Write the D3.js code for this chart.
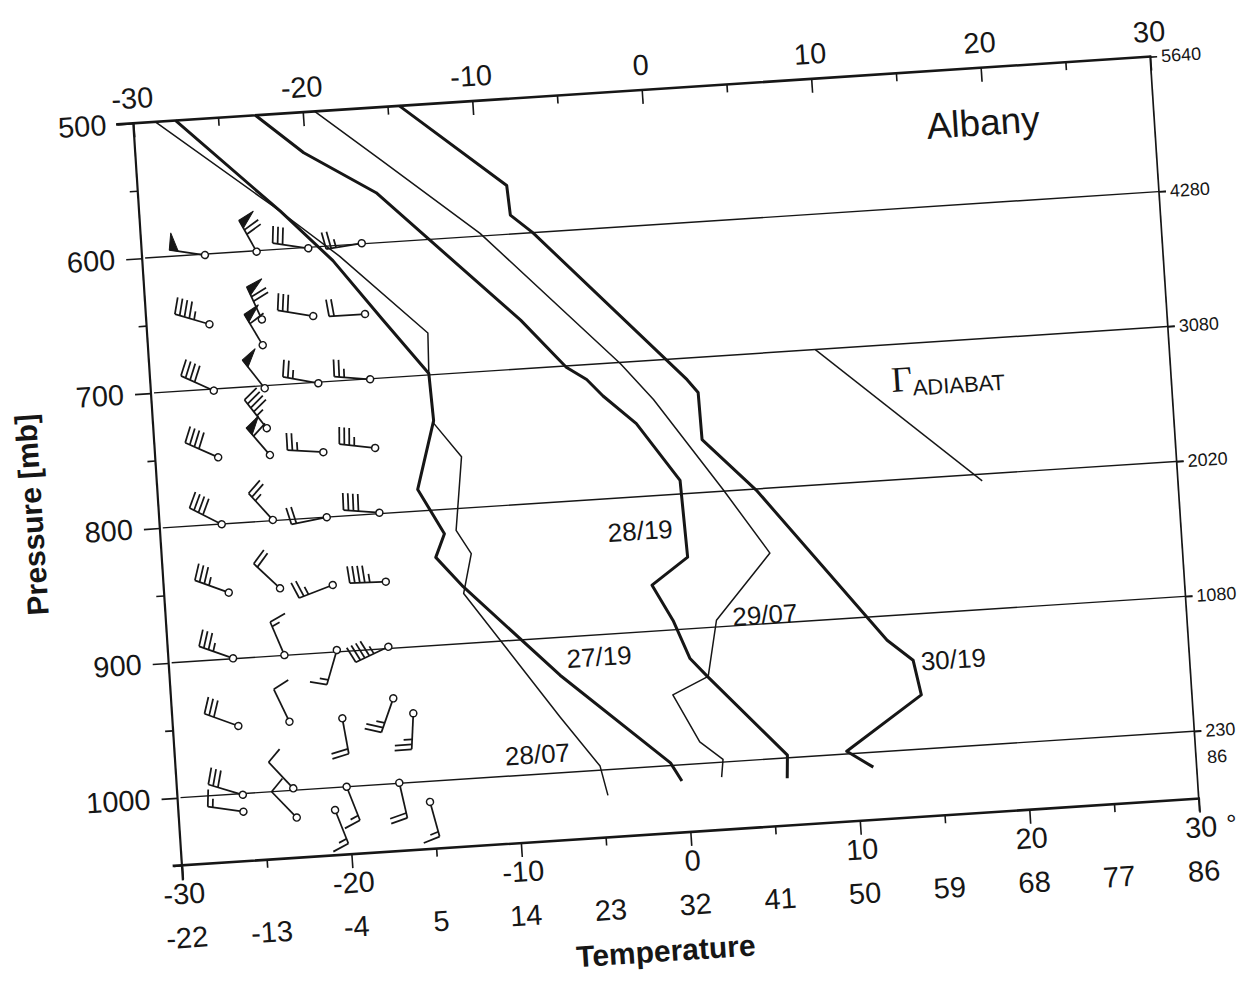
<!DOCTYPE html>
<html><head><meta charset="utf-8">
<script src="https://cdn.jsdelivr.net/npm/d3@7"></script>
<style>
body{margin:0;background:#fff}
svg{display:block}
</style>
</head><body>
<svg id="chart" width="1242" height="982"></svg>
<script>
// ---------------- DATA ----------------
const tempMajorTicks = [-30,-20,-10,0,10,20,30];
const tempMinorTicks = [-25,-15,-5,5,15,25];
const fahrenheitAt = [-30,-25,-20,-15,-10,-5,0,5,10,15,20,25,30];
const fahrenheitLabels = ["-22","-13","-4","5","14","23","32","41","50","59","68","77","86"];
const pressureMajorTicks = [500,600,700,800,900,1000];
const pressureMinorTicks = [550,650,750,850,950,1050];
const heightLevels = [500,600,700,800,900,1000];
const heightLabels = ["5640","4280","3080","2020","1080","230"];
const stationLevel = 1020, stationLabel = "86";
const isobarLevels = [600,700,800,900,1000];

// soundings: pressure (mb) and temperature (°C)
const s2719_p = [500,572,611,657,699,734,784,818,835,858,928,998,1012];
const s2719_T = [-27.5,-21.7,-18.8,-16.1,-13.6,-13.5,-14.7,-13.3,-13.9,-12.4,-7.05,-0.9,-0.3];
const s2807_p = [500,568,608,669,699,736,762,816,834,863,959,997,1019];
const s2807_T = [-28.7,-22.1,-18.4,-13.5,-13.6,-13.5,-12.0,-12.6,-11.8,-12.4,-7.2,-5.05,-4.7];
const s2819_p = [500,530,563,664,701,711,724,746,790,847,866,893,922,936,998,1015];
const s2819_T = [-22.8,-20.1,-16.0,-8.0,-5.5,-4.35,-3.45,-1.6,0.75,0.9,-1.3,-0.2,0.65,1.6,6.0,5.9];
const s2907_p = [500,539,598,701,729,799,848,895,936,948,984,998,1011];
const s2907_T = [-19.3,-15.6,-10.05,-2.3,-0.5,3.25,5.75,2.35,1.65,-0.5,0.9,2.2,2.05];
const s3019_p = [500,564,586,600,716,726,761,801,918,934,960,998,1011];
const s3019_T = [-14.3,-8.3,-8.2,-6.95,1.55,2.15,2.2,5.2,12.3,13.75,14.1,9.5,11.0];
const soundingNames = ["27/19","28/07","28/19","29/07","30/19"];
const soundingThick = [true,false,true,false,true];
const labelT = [-6.6,-10.6,-3.7,3.3,14.2];
const labelP = [923,992,832,900,942];

// dry adiabat reference segment
const adiabatP = [700,805];
const adiabatT = [9.2,18.5];

// wind barbs: position (T column, p), direction (deg, staff points toward it), speed (kt)
const barbT = [-26.3,-23.25,-20.2,-17.04, -26.3,-23.2,-23.25,-20.17,-17.12, -26.3,-23.3,-20.13,-17.07,
  -26.3,-23.33,-23.25,-20.1,-17.04, -26.35,-23.33,-20.15,-17.04, -26.2,-23.17,-20.06,-16.93,
  -26.2,-23.17,-20.07,-17.03, -26.15,-23.13,-20.01,-16.94,-15.82,
  -26.15,-26.18,-23.16,-23.07,-20.02,-16.91,-20.79,-15.18];
const barbP = [600.7,600.7,600.7,599.6, 652,651,670,651,652, 701.2,701.9,700.8,700.4,
  750.6,731.5,751.4,751.9,751.3, 800.2,799.5,800.1,799.3, 851,850.3,850.4,850.5,
  899.7,899.8,898.6,898.7, 949.9,949.2,949.3,937,949,
  1000.9,1013.4,998.6,1020.3,1000,999.6,1016.6,1015.2];
const barbDir = [282,334.5,282,264.5, 290,339,333,283,270, 298,325.6,284,278,
  297.5,325.5,322.8,277,280, 300.5,321.5,262.4,278, 293.7,316.8,252.6,271.3,
  293.2,340.5,199.8,248.4, 293.7,338,173.4,203,186.3,
  290.4,281.8,320.4,319.5,162,170.8,162,168.3];
const barbSpeed = [50,70,30,25, 45,70,60,30,20, 40,50,25,25,
  40,45,60,25,35, 40,25,20,40, 35,20,25,45,
  35,15,15,45, 30,10,20,25,25,
  30,15,10,10,15,20,15,15];

// ---------------- LAYOUT ----------------
const INK = "#161616";
const FONT = "'Liberation Sans', Arial, Helvetica, sans-serif";
const W = 1019, H = 743.6;
const svg = d3.select("#chart");
const g = svg.append("g").attr("transform","translate(133.3,123.3) rotate(-3.75)");

const x = d3.scaleLinear().domain([-30,30]).range([0,W]);
const y = d3.scaleLinear().domain([500,1050]).range([0,H]);

function styleAxis(sel, size){
  sel.select(".domain").remove();
  sel.selectAll(".tick line").attr("stroke",INK).attr("stroke-width",1.6);
  sel.attr("font-family",FONT).attr("font-size",size);
  sel.selectAll("text").attr("fill",INK);
}

// isobar lines
g.append("g").selectAll("line").data(isobarLevels).join("line")
  .attr("x1",x(-30)+3).attr("x2",x(30)+7)
  .attr("y1",d=>y(d)).attr("y2",d=>y(d))
  .attr("stroke",INK).attr("stroke-width",1.4);

// top axis
g.append("g").call(d3.axisTop(x).tickValues(tempMinorTicks).tickSizeInner(-8).tickSizeOuter(0).tickFormat(""))
  .call(s=>styleAxis(s,29));
g.append("g").call(d3.axisTop(x).tickValues(tempMajorTicks).tickSizeInner(-14).tickSizeOuter(0).tickPadding(15).tickFormat(d=>String(d)))
  .call(s=>styleAxis(s,29));
// bottom axis
g.append("g").attr("transform",`translate(0,${H})`)
  .call(d3.axisBottom(x).tickValues(tempMinorTicks).tickSizeInner(8).tickSizeOuter(0).tickFormat(""))
  .call(s=>styleAxis(s,29));
g.append("g").attr("transform",`translate(0,${H})`)
  .call(d3.axisBottom(x).tickValues(tempMajorTicks).tickSizeInner(14).tickSizeOuter(0).tickPadding(4).tickFormat(d=>String(d)))
  .call(s=>styleAxis(s,29));
g.append("g").attr("transform",`translate(0,${H})`)
  .call(d3.axisBottom(x).tickValues(fahrenheitAt).tickSize(0).tickPadding(62).tickFormat((d,i)=>fahrenheitLabels[i]))
  .call(s=>styleAxis(s,29));
// left axis
g.append("g").call(d3.axisLeft(y).tickValues(pressureMinorTicks).tickSizeInner(8).tickSizeOuter(0).tickFormat(""))
  .call(s=>styleAxis(s,29));
g.append("g").call(d3.axisLeft(y).tickValues(pressureMajorTicks).tickSizeInner(16).tickSizeOuter(0).tickPadding(11).tickFormat(d=>String(d)))
  .call(s=>styleAxis(s,29));
// right axis (heights)
g.append("g").attr("transform",`translate(${W},0)`)
  .call(d3.axisRight(y).tickValues(heightLevels).tickSizeInner(7).tickSizeOuter(0).tickPadding(4).tickFormat((d,i)=>heightLabels[i]))
  .call(s=>styleAxis(s,18));
g.append("text").attr("x",W+11).attr("y",y(stationLevel)).attr("dy","0.32em")
  .attr("font-family",FONT).attr("font-size",18).attr("fill",INK).text(stationLabel);
g.append("text").attr("x",x(30)+26).attr("y",H+18).attr("dy","0.71em")
  .attr("font-family",FONT).attr("font-size",26).attr("fill",INK).text("°");

// frame
const frame = g.append("g").attr("stroke",INK).attr("fill","none").attr("stroke-linecap","square");
frame.append("line").attr("x1",x(-30)-16).attr("x2",x(30)).attr("y1",y(500)).attr("y2",y(500)).attr("stroke-width",2.6);
frame.append("line").attr("x1",x(-30)-8).attr("x2",x(30)).attr("y1",y(1050)).attr("y2",y(1050)).attr("stroke-width",2.6);
frame.append("line").attr("x1",x(-30)).attr("x2",x(-30)).attr("y1",y(500)).attr("y2",y(1050)+14).attr("stroke-width",2.2);
frame.append("line").attr("x1",x(30)).attr("x2",x(30)).attr("y1",y(500)).attr("y2",y(1050)+12).attr("stroke-width",1.7);

// axis titles
g.append("text").attr("transform",`translate(${x(-30)-127},${y(784)}) rotate(-90)`)
  .attr("text-anchor","middle").attr("dominant-baseline","central")
  .attr("font-family",FONT).attr("font-weight","bold").attr("font-size",30).attr("fill",INK)
  .text("Pressure [mb]");
g.append("text").attr("x",x(-1.9)).attr("y",H+117)
  .attr("text-anchor","middle").attr("dominant-baseline","central")
  .attr("font-family",FONT).attr("font-weight","bold").attr("font-size",30).attr("fill",INK)
  .text("Temperature");

// station name
g.append("text").attr("x",x(16.6)).attr("y",y(550))
  .attr("font-family",FONT).attr("font-size",37).attr("fill",INK).text("Albany");

// soundings
const soundings = [
  {p:s2719_p,T:s2719_T},{p:s2807_p,T:s2807_T},{p:s2819_p,T:s2819_T},
  {p:s2907_p,T:s2907_T},{p:s3019_p,T:s3019_T}];
const line = d3.line().x(d=>x(d[1])).y(d=>y(d[0]));
g.append("g").selectAll("path").data(soundings).join("path")
  .attr("d",s=>line(s.p.map((p,i)=>[p,s.T[i]])))
  .attr("fill","none").attr("stroke",INK).attr("stroke-linejoin","round")
  .attr("stroke-width",(s,i)=>soundingThick[i]?3:1.5);
g.append("g").selectAll("text").data(soundingNames).join("text")
  .attr("x",(d,i)=>x(labelT[i])).attr("y",(d,i)=>y(labelP[i]))
  .attr("font-family",FONT).attr("font-size",26).attr("fill",INK).text(d=>d);

// adiabat reference
g.append("path").attr("d",line(adiabatP.map((p,i)=>[p,adiabatT[i]])))
  .attr("stroke",INK).attr("stroke-width",1.4).attr("fill","none");
const gam = g.append("text").attr("x",x(13.55)).attr("y",y(735)).attr("fill",INK);
gam.append("tspan").attr("font-family","'Liberation Serif','Times New Roman',serif").attr("font-size",36).text("Γ");
gam.append("tspan").attr("font-family",FONT).attr("font-size",22).attr("dy",5).text("ADIABAT");

// wind barbs
const STAFF = 36, R = 3.5, FL = 17, SP = 5, PB = 9;
const barbs = barbT.map((t,i)=>({T:t,p:barbP[i],dir:barbDir[i],spd:barbSpeed[i]}));
const bg = g.append("g").attr("stroke",INK).attr("stroke-width",1.75).attr("fill","none");
bg.selectAll("g").data(barbs).join("g")
  .attr("transform",d=>`translate(${x(d.T)},${y(d.p)}) rotate(${d.dir})`)
  .each(function(d){
    const el = d3.select(this);
    el.append("line").attr("x1",0).attr("y1",-R).attr("x2",0).attr("y2",-STAFF);
    let v = Math.round(d.spd/5)*5;
    const nP = Math.floor(v/50); v -= nP*50;
    const nF = Math.floor(v/10); v -= nF*10;
    const nH = v>=5?1:0;
    let s = STAFF;
    if(nP===0 && nF===0) s -= SP;
    for(let k=0;k<nP;k++){
      el.append("path").attr("d",`M0,${-s}L${FL},${-s-1}L0,${-s+PB}Z`).attr("fill",INK).attr("stroke-width",1);
      s -= PB+2;
    }
    for(let k=0;k<nF;k++){
      el.append("line").attr("x1",0).attr("y1",-s).attr("x2",FL).attr("y2",-s-2);
      s -= SP;
    }
    for(let k=0;k<nH;k++){
      el.append("line").attr("x1",0).attr("y1",-s).attr("x2",FL*0.5).attr("y2",-s-1);
    }
    el.append("circle").attr("r",R).attr("fill","#fff").attr("stroke-width",1.5);
  });
</script>
</body></html>
